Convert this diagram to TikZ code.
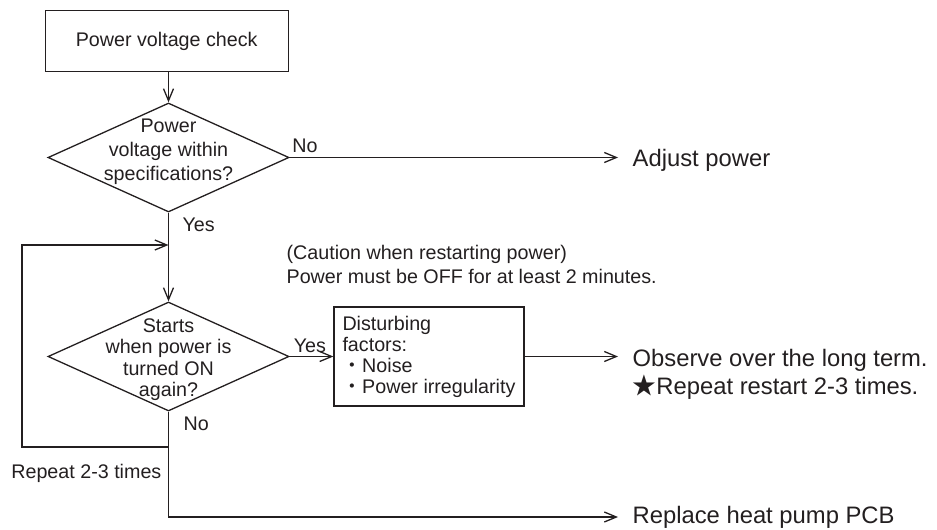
\documentclass[tikz,border=0pt]{standalone}
\usepackage{fontspec}
\setmainfont{Liberation Sans}
\newfontfamily\cjkfont{Noto Sans CJK JP}
\usetikzlibrary{shapes.geometric,arrows.meta,calc}
\definecolor{ink}{RGB}{35,31,32}

\begin{document}
\begin{tikzpicture}[x=1pt,y=-1pt,
  line width=1.3pt, color=ink,
  flow/.style={-{Straight Barb[length=12pt,width=10pt]}},
  smallfont/.style={font=\fontsize{19.7}{21}\selectfont},
  bigfont/.style={font=\fontsize{23.8}{28}\selectfont},
  procbox/.style={draw, rectangle, inner sep=0pt, smallfont},
  decision/.style={draw, diamond, inner sep=0pt, minimum width=241pt, minimum height=109pt},
  qtext/.style={inner sep=0pt, anchor=north, align=center},
  lbl/.style={inner sep=0pt, smallfont},
  result/.style={inner xsep=14pt, inner ysep=0pt, bigfont, align=left},
]
\useasboundingbox (0,0) rectangle (937,530);

% process boxes and decisions
\node[procbox, minimum width=243pt, minimum height=61pt] (check) at (166.7,41.3) {Power voltage check};

\node[decision] (d1) at (168.5,157.5) {};
\node[qtext, font=\fontsize{19.7}{24}\selectfont] (q1) at (168.5,118.5)
  {Power\\voltage within\\specifications?};

\node[decision] (d2) at (168.5,356.5) {};
\node[qtext, font=\fontsize{19.7}{21.3}\selectfont] (q2) at (168.5,318)
  {Starts\\when power is\\turned ON\\again?};

\node[procbox, minimum width=190pt, minimum height=99pt, align=left] (dist) at (429,356.5)
  {Disturbing\\factors:\\{\cjkfont ・}Noise\\{\cjkfont ・}Power irregularity};

% notes
\node[lbl, align=left, anchor=north west, font=\fontsize{19.7}{24}\selectfont] (caution) at (286,245)
  {(Caution when restarting power)\\Power must be OFF for at least 2 minutes.};
\node[lbl, anchor=base east] (repeat) at (162,478) {Repeat 2-3 times};

% outcomes
\node[result, anchor=base west] (adj) at (618,166.5) {Adjust power};
\node[result, anchor=north west] (obs) at (618,348.8)
  {Observe over the long term.\\{\cjkfont ★}Repeat restart 2-3 times.};
\node[result, anchor=base west] (repl) at (618,523.5) {Replace heat pump PCB};

% connectors
\coordinate (merge) at (168.5,245);
\coordinate (split) at (168.5,447);
\coordinate (low) at (168.5,517);
\coordinate (loopbl) at (22,447);
\coordinate (looptl) at (22,245);

\draw[flow] (check.south -| d1.north) -- (d1.north);
\draw[flow] (d1.east) -- node[lbl, pos=0, anchor=base west, xshift=2pt, yshift=5.5pt] (no1) {No} (d1.east -| adj.west);
\draw[flow] (d1.south) -- node[lbl, pos=0, anchor=base west, xshift=13.5pt, yshift=-19pt] (yes1) {Yes} (d2.north);
\draw[flow] (split) -- (loopbl) -- (looptl) -- (merge);
\draw[flow] (d2.south) -- node[lbl, pos=0, anchor=base west, xshift=14.5pt, yshift=-19pt] (no2) {No} (low) -- (low -| repl.west);
\draw[flow] (d2.east) -- node[lbl, pos=0, anchor=base west, xshift=3.5pt, yshift=4.5pt] (yes2) {Yes} (dist.west);
\draw[flow] (dist.east) -- (dist.east -| obs.west);
\end{tikzpicture}
\end{document}
